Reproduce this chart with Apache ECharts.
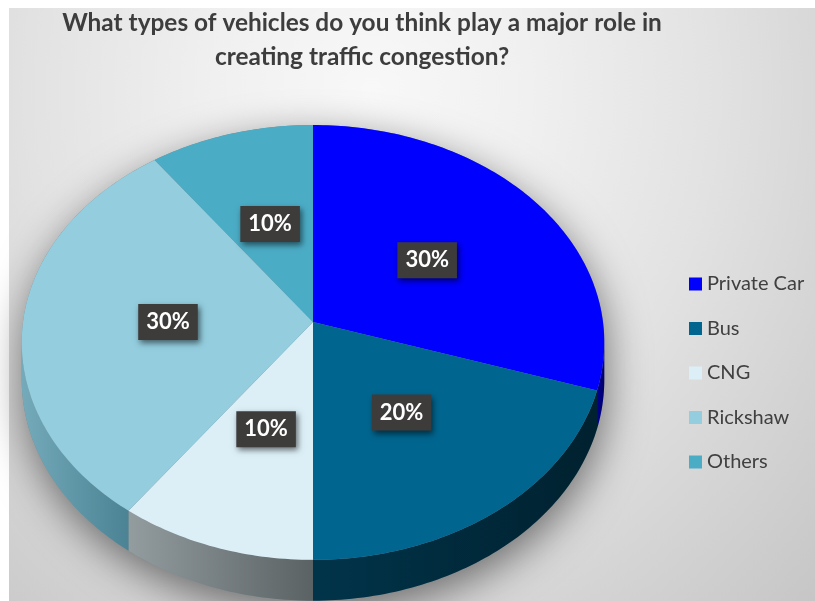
<!DOCTYPE html>
<html>
<head>
<meta charset="utf-8">
<script src="https://cdn.jsdelivr.net/npm/echarts@6/dist/echarts.min.js"></script>
<style>
  html, body { margin: 0; padding: 0; background: #ffffff; }
  #bg {
    position: absolute; left: 9px; top: 8px; right: 0; bottom: 0;
    background: radial-gradient(ellipse at 45% 14%, #f8f8f8 0%, #f0f0f0 25%, #e2e2e2 55%, #c6c6c6 100%);
  }
  #chart { position: absolute; left: 0; top: 0; width: 815px; height: 601px; }
</style>
</head>
<body>
<div id="bg"></div>
<div id="chart"></div>
<script>
// Survey answers: share of respondents per vehicle type
const categories = ['Private Car', 'Bus', 'CNG', 'Rickshaw', 'Others'];
const shares = [30, 20, 10, 30, 10];

// Slice styling
const topColors = ['#0000FF', '#00658F', '#DCEFF7', '#93CDDE', '#4BACC6'];
const sideColors = [
  ['#000090', '#00006A'],
  ['#01344A', '#00212F'],
  ['#939C9F', '#5A6264'],
  ['#74AABA', '#4B8394'],
  ['#347D90', '#2A6474']
];

// Tilted-disc projection of the pie (perspective view)
const PIE = { cx: 313, cy: 322, rx: 290, ry: 215.5, k: 0.094, depth: 37 };
// the rim becomes visible where the projected outline turns downward
const RIM_FROM = Math.acos(-PIE.k) * 180 / Math.PI;
const RIM_TO = 360 - RIM_FROM;

function project(thetaDeg, r) {
  const t = thetaDeg * Math.PI / 180;
  const u = r * Math.sin(t), v = r * Math.cos(t);
  const w = 1 + PIE.k * v;
  return [PIE.cx + PIE.rx * u / w, PIE.cy - PIE.ry * v / w, w];
}
function arc(a0, a1, drop) {
  const pts = [];
  const n = Math.max(2, Math.ceil(Math.abs(a1 - a0)));
  for (let i = 0; i <= n; i++) {
    const a = a0 + (a1 - a0) * i / n;
    const p = project(a, 1);
    pts.push([p[0], p[1] + (drop ? PIE.depth / p[2] : 0)]);
  }
  return pts;
}

const total = shares.reduce((s, v) => s + v, 0);

function makeRender(idx) {
  return function (params, api) {
    const value = api.value(0);
    const before = shares.slice(0, idx).reduce((s, v) => s + v, 0);
    const a0 = before / total * 360;
    const a1 = (before + value) / total * 360;
    const children = [];

    // soft drop shadow under the whole disc (drawn once)
    if (idx === 0) {
      const sil = arc(RIM_TO, 360 + RIM_FROM, false).concat(arc(RIM_FROM, RIM_TO, true));
      children.push({
        type: 'polygon', z2: 0, silent: true,
        shape: { points: sil },
        style: { fill: '#7a8a90', shadowBlur: 40, shadowColor: 'rgba(0,0,0,0.5)', shadowOffsetY: 12, shadowOffsetX: 2 }
      });
    }

    // visible rim (front part of the disc)
    const s0 = Math.max(a0, RIM_FROM), s1 = Math.min(a1, RIM_TO);
    if (s1 > s0) {
      const pts = arc(s0, s1, false).concat(arc(s0, s1, true).reverse());
      children.push({
        type: 'polygon', z2: 1,
        shape: { points: pts },
        style: {
          fill: new echarts.graphic.LinearGradient(0, 0, 1, 0, [
            { offset: 0, color: sideColors[idx][0] },
            { offset: 1, color: sideColors[idx][1] }
          ])
        }
      });
    }

    // top face
    const c = project(0, 0);
    children.push({
      type: 'polygon', z2: 5,
      shape: { points: [[c[0], c[1]]].concat(arc(a0, a1, false)) },
      style: { fill: topColors[idx] }
    });

    // percentage label
    const mid = (a0 + a1) / 2;
    const lp = project(mid, 0.5);
    children.push({
      type: 'text', z2: 10, x: lp[0], y: lp[1],
      style: {
        text: Math.round(value / total * 100) + '%',
        font: 'bold 22px Lato',
        fill: '#ffffff',
        align: 'center', verticalAlign: 'middle',
        backgroundColor: '#3E3C3B',
        padding: [8, 8, 6, 8],
        shadowBlur: 6, shadowColor: 'rgba(0,0,0,0.55)', shadowOffsetX: 2, shadowOffsetY: 3
      }
    });
    return { type: 'group', children: children };
  };
}

const chart = echarts.init(document.getElementById('chart'), null, { renderer: 'canvas' });
chart.setOption({
  animation: false,
  title: {
    text: 'What types of vehicles do you think play a major role in\ncreating traffic congestion?',
    left: 357, top: 1, textAlign: 'center',
    textStyle: { fontFamily: 'Lato', fontWeight: 'bold', fontSize: 24.4, lineHeight: 34, color: '#3D3D3D' }
  },
  legend: {
    orient: 'vertical', left: 684, top: 269,
    data: categories,
    icon: 'rect', itemWidth: 13, itemHeight: 13, itemGap: 24.5,
    textStyle: { fontFamily: 'Lato', fontSize: 20, lineHeight: 20, color: '#404040' }
  },
  series: categories.map((name, i) => ({
    type: 'custom',
    name: name,
    coordinateSystem: 'none',
    itemStyle: { color: topColors[i] },
    renderItem: makeRender(i),
    data: [[shares[i]]]
  }))
});
</script>
</body>
</html>
